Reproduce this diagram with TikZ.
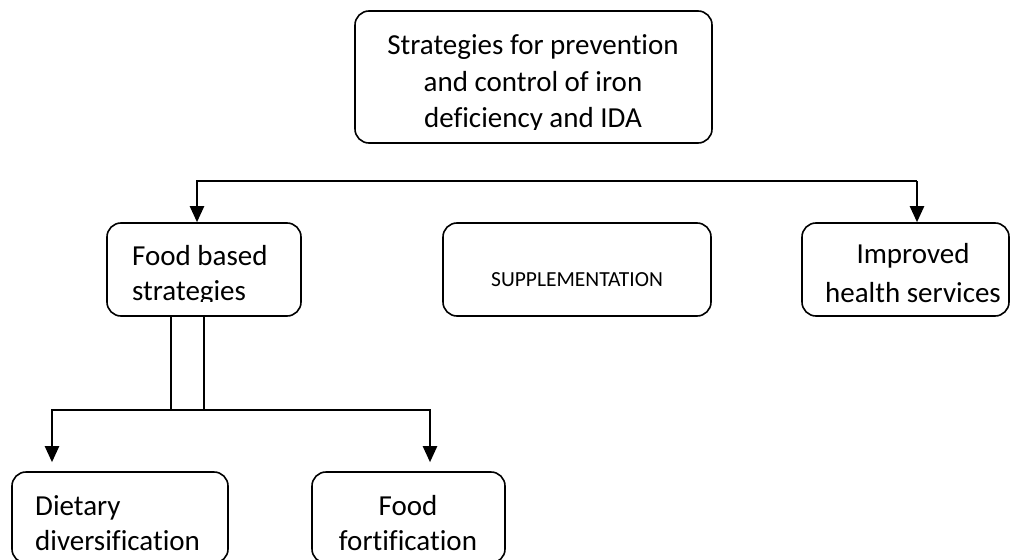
\documentclass[tikz,border=0pt]{standalone}
\usepackage{fontspec}
\setmainfont{Carlito}[Ligatures=NoCommon]
\usetikzlibrary{arrows.meta}
\begin{document}
\begin{tikzpicture}[x=1pt,y=-1pt,
  box/.style={draw=black,line width=1.6pt,rounded corners=14pt,inner sep=0pt},
  txt/.style={inner sep=0pt,anchor=base,font=\fontsize{29}{36}\selectfont},
  small/.style={inner sep=0pt,anchor=base,font=\fontsize{21.5}{25}\selectfont},
  conn/.style={draw=black,line width=2.3pt},
  tip/.style={-{Triangle[length=16pt,width=14pt]}},
  twin/.style={draw=black,line width=1.4pt}
]
\useasboundingbox (0,0) rectangle (1011,559);
\clip (0,0) rectangle (1011,559);

% boxes
\node[box,minimum width=357pt,minimum height=132pt] (top)  at (533.5,77) {};
\node[box,minimum width=194pt,minimum height=93pt]  (food) at (204,269.5) {};
\node[box,minimum width=268pt,minimum height=93pt]  (supp) at (577,269.5) {};
\node[box,minimum width=207pt,minimum height=93pt]  (impr) at (905.5,269.5) {};
\node[box,minimum width=216pt,minimum height=91pt]  (diet) at (120,517.5) {};
\node[box,minimum width=193pt,minimum height=91pt]  (fort) at (408.5,517.5) {};

% box texts (bottom lines cut by the text frames)
\begin{scope}
  \clip (355,11) rectangle (712,129.5);
  \node[txt] (top1) at (533,55)  {Strategies for prevention};
  \node[txt] (top2) at (533,92)  {and control of iron};
  \node[txt] (top3) at (533,128) {deficiency and IDA};
\end{scope}
\begin{scope}
  \clip (107,223) rectangle (301,301);
  \node[txt,anchor=base west] (food1) at (132,265) {Food based};
  \node[txt,anchor=base west] (food2) at (132,300) {strategies};
\end{scope}
\node[small] (supp1) at (577,286) {SUPPLEMENTATION};
\node[txt] (impr1) at (913,263) {Improved};
\node[txt] (impr2) at (913,302) {health services};
\node[txt,anchor=base west] (diet1) at (35,515) {Dietary};
\node[txt,anchor=base west] (diet2) at (35,550) {diversification};
\node[txt] (fort1) at (408,515) {Food};
\node[txt] (fort2) at (408,550) {fortification};

% upper branching connector
\coordinate (hl) at (197,181);
\coordinate (hr) at (917,181);
\draw[conn,tip] (hr) -- (hl) -- (hl |- food.north);
\draw[conn,tip] (hr) -- (hr |- impr.north);

% twin stems below the food based box
\coordinate (v1) at (171,410);
\coordinate (v2) at (204,410);
\draw[twin] (v1 |- food.south) -- (v1);
\draw[twin] (v2 |- food.south) -- (v2);

% lower branching connector
\coordinate (ll) at (52,410);
\coordinate (lr) at (430,410);
\draw[conn,tip,shorten >=9pt] (lr) -- (ll) -- (ll |- diet.north);
\draw[conn,tip,shorten >=9pt] (ll) -- (lr) -- (lr |- fort.north);
\end{tikzpicture}
\end{document}
